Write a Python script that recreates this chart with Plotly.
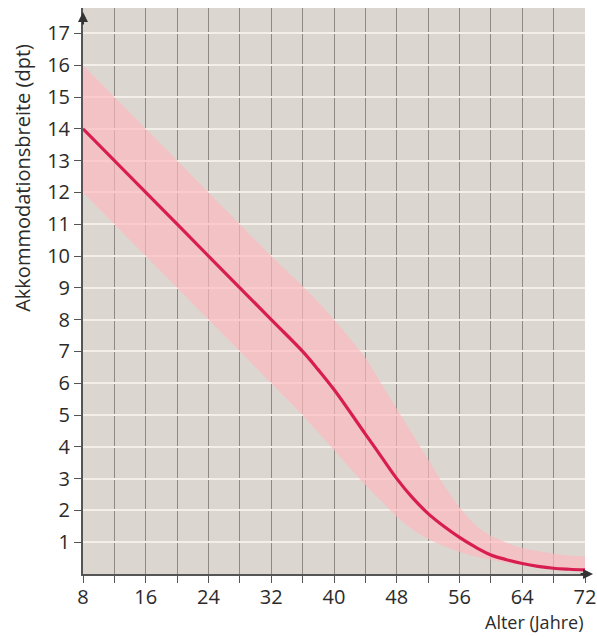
import plotly.graph_objects as go

# Age (years) and accommodation amplitude (dpt): mean curve and spread band
age = [8, 16, 24, 32, 36, 38, 40, 44, 46, 48, 50, 52, 54, 56, 58, 60, 62, 64, 66, 68, 70, 72]
mean_dpt = [14.0, 12.0, 10.0, 8.0, 7.0, 6.42, 5.8, 4.4, 3.7, 3.0, 2.4, 1.9, 1.5, 1.15, 0.85, 0.6, 0.45, 0.33, 0.24, 0.18, 0.15, 0.13]
upper_dpt = [16.0, 14.0, 12.0, 10.0, 9.05, 8.55, 8.0, 6.8, 6.0, 5.2, 4.4, 3.6, 2.8, 2.1, 1.55, 1.2, 0.98, 0.82, 0.72, 0.64, 0.58, 0.55]
lower_dpt = [12.0, 10.0, 8.0, 6.0, 5.0, 4.45, 3.9, 2.8, 2.3, 1.8, 1.4, 1.1, 0.88, 0.7, 0.55, 0.45, 0.35, 0.28, 0.22, 0.18, 0.14, 0.12]

x_ticks = list(range(8, 73, 4))
x_labels = [str(v) if (v - 8) % 8 == 0 else "" for v in x_ticks]
y_ticks = list(range(1, 18))
y_labels = [str(v) for v in y_ticks]

FONT = "Open Sans, sans-serif"
TXT = "#2b2b2b"

fig = go.Figure()

# spread band (upper edge, then lower edge filled to it)
fig.add_trace(go.Scatter(
    x=age, y=upper_dpt, mode="lines", line=dict(width=0, shape="spline", smoothing=0.8),
    hoverinfo="skip", showlegend=False))
fig.add_trace(go.Scatter(
    x=age, y=lower_dpt, mode="lines", line=dict(width=0, shape="spline", smoothing=0.8),
    fill="tonexty", fillcolor="rgba(255,184,192,0.66)",
    hoverinfo="skip", showlegend=False))

# mean curve
fig.add_trace(go.Scatter(
    x=age, y=mean_dpt, mode="lines",
    line=dict(color="#d81e50", width=3.2, shape="spline", smoothing=1.0),
    showlegend=False))

fig.update_layout(
    width=597, height=637,
    margin=dict(l=83, r=12, t=8, b=63),
    paper_bgcolor="white",
    plot_bgcolor="#dcd6d1",
    font=dict(family=FONT, size=20, color=TXT),
    xaxis=dict(
        range=[8, 72], tickmode="array", tickvals=x_ticks, ticktext=x_labels,
        ticks="outside", ticklen=7, tickwidth=1.2, tickcolor="#555",
        ticklabelstandoff=-3,
        showgrid=True, gridcolor="#8e8984", gridwidth=1,
        showline=True, linecolor="#555", linewidth=2,
        zeroline=False, automargin=False,
        tickfont=dict(size=20, color=TXT, family=FONT),
    ),
    yaxis=dict(
        range=[0, 17.8], tickmode="array", tickvals=y_ticks, ticktext=y_labels,
        ticks="outside", ticklen=7, tickwidth=1.2, tickcolor="#555",
        showgrid=True, gridcolor="#f4eee8", gridwidth=2,
        showline=True, linecolor="#555", linewidth=2,
        zeroline=False, automargin=False,
        tickfont=dict(size=20, color=TXT, family=FONT),
    ),
    annotations=[
        dict(text="Akkommodationsbreite (dpt)", xref="paper", yref="paper",
             x=-0.1195, y=0.70, xanchor="center", yanchor="middle",
             textangle=-90, showarrow=False,
             font=dict(size=20, color=TXT, family=FONT)),
        dict(text="Alter (Jahre)", xref="paper", yref="paper",
             x=1.0, y=-0.1095, xanchor="right", yanchor="bottom",
             showarrow=False,
             font=dict(size=18, color=TXT, family=FONT)),
        # axis arrowheads
        dict(text="", xref="paper", yref="paper", x=0, y=0.993,
             showarrow=True, ax=0, ay=14, arrowhead=2, arrowsize=1,
             arrowwidth=2, arrowcolor="#333"),
        dict(text="", xref="paper", yref="paper", x=1.016, y=0,
             showarrow=True, ax=-14, ay=0, arrowhead=2, arrowsize=1,
             arrowwidth=2, arrowcolor="#333"),
    ],
)

fig.write_html("out.html")
